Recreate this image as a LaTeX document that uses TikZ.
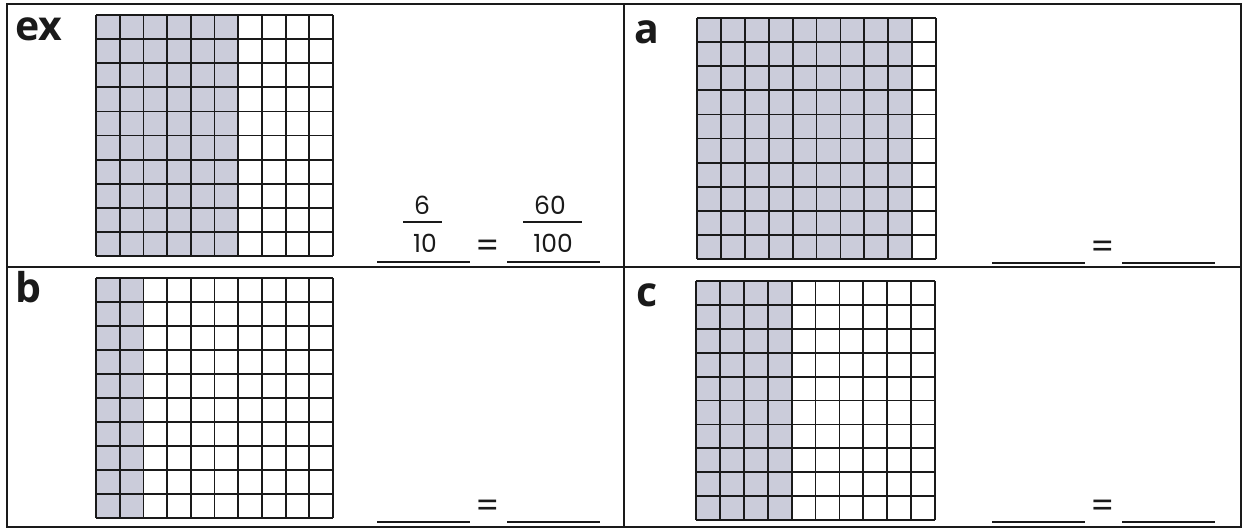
\documentclass[tikz,border=0pt]{standalone}
\usepackage{fontspec}
\usetikzlibrary{positioning}
\newfontfamily\labelfont{Open Sans}
\newfontfamily\digitfont{Poppins}
\definecolor{cellshade}{HTML}{CBCCDA}
\definecolor{inkblack}{HTML}{1A1A1A}
% 10 x 10 grid: x0, y0, x1, y1, shaded columns
\newcommand{\hundredgrid}[5]{%
  \fill[cellshade] (#1,#2) rectangle ({#1+(#3-#1)*#5/10},#4);
  \foreach \i in {0,...,10} {
    \draw[gridline] ({#1+(#3-#1)*\i/10},#2) -- ({#1+(#3-#1)*\i/10},#4);
    \draw[gridline] (#1,{#2+(#4-#2)*\i/10}) -- (#3,{#2+(#4-#2)*\i/10});
  }}
% answer lines with equals sign: x offset, y of lines
\newcommand{\answerline}[2]{%
  \draw[blank] (#1,#2) -- ({#1+93},#2);
  \draw[blank] ({#1+130},#2) -- ({#1+223},#2);
  \node[equals] at ({#1+111},{#2-13}) {=};}

\begin{document}
\begin{tikzpicture}[x=1pt,y=-1pt,
  gridline/.style={draw=inkblack,line width=1.8pt},
  frame/.style={draw=inkblack,line width=1.8pt},
  blank/.style={draw=inkblack,line width=1.6pt},
  tag/.style={anchor=base west,inner sep=0pt,text=inkblack,font=\labelfont\bfseries\fontsize{41}{41}\selectfont},
  digit/.style={inner sep=0pt,text=inkblack,font=\digitfont\fontsize{25}{25}\selectfont},
  equals/.style={inner sep=0pt,text=inkblack,font=\digitfont\fontsize{34}{34}\selectfont}]
\useasboundingbox (0,0) rectangle (1251,531);
\fill[white] (0,0) rectangle (1251,531);
% panels
\draw[frame] (7,4) rectangle (1241,527);
\draw[frame] (7,267) -- (1241,267);
\draw[frame] (624,4) -- (624,527);
% labels
\node[tag] (ex) at (15,40) {ex};
\node[tag] (a) at (634,43) {a};
\node[tag] (b) at (15,302) {b};
\node[tag] (c) at (636,306) {c};
% grids
\hundredgrid{96}{15}{333}{256}{6}
\hundredgrid{697}{18}{936}{259}{9}
\hundredgrid{96}{278}{333}{518}{2}
\hundredgrid{696}{281}{935}{520}{4}
% worked example
\node[digit] (six) at (422,205) {6};
\draw[blank] (403,222) -- (442,222);
\node[digit] (ten) at (425,243) {10};
\node[digit] (sixty) at (550,205) {60};
\draw[blank] (523,222) -- (582,222);
\node[digit] (hundred) at (553,243) {100};
\answerline{377}{262}
% answer lines
\answerline{992}{263}
\answerline{377}{522}
\answerline{992}{522}
\end{tikzpicture}
\end{document}
